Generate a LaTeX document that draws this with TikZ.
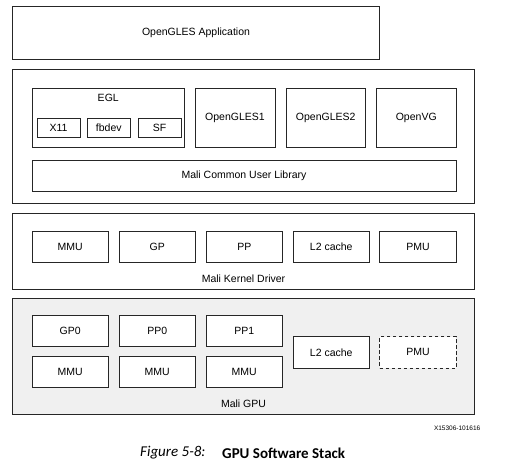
\documentclass[tikz,border=0pt]{standalone}
\usepackage{fontspec}
\setmainfont{Liberation Sans}
\newfontfamily\capfont{Carlito}
\begin{document}
\begin{tikzpicture}[x=1pt,y=-1pt,
  box/.style={draw=black!85, line width=1pt, fill=white, inner sep=0pt, outer sep=0pt,
    font=\fontsize{10.5}{12}\selectfont},
  lbl/.style={inner sep=0pt, font=\fontsize{10.5}{12}\selectfont},
  unit/.style={box, minimum width=76.5pt, minimum height=31.5pt}]
\useasboundingbox (0,0) rectangle (505,467);
% top
\node[box, minimum width=367pt, minimum height=53.5pt] (app) at (196,32.75) {OpenGLES Application};
% user library
\node[box, minimum width=462pt, minimum height=134pt] (user) at (243.5,136) {};
\node[box, minimum width=152.5pt, minimum height=59pt] (egl) at (108.25,117.5) {};
\node[lbl] (egllbl) at (108.25,98) {EGL};
\node[box, minimum width=43pt, minimum height=19pt] (x11) at (58.5,127.5) {X11};
\node[box, minimum width=43.5pt, minimum height=19pt] (fbdev) at (108.75,127.5) {fbdev};
\node[box, minimum width=43pt, minimum height=19pt] (sf) at (159.5,127.5) {SF};
\node[box, minimum width=80pt, minimum height=59pt] (gles1) at (235,117.5) {OpenGLES1};
\node[box, minimum width=79.5pt, minimum height=59pt] (gles2) at (325.75,117.5) {OpenGLES2};
\node[box, minimum width=79.5pt, minimum height=59pt] (vg) at (416.25,117.5) {OpenVG};
\node[box, minimum width=424pt, minimum height=31pt] (mcul) at (244,176) {Mali Common User Library};
% kernel driver
\node[box, minimum width=462pt, minimum height=76pt] (kd) at (243.5,251) {};
\node[unit] (kmmu) at (70.25,246.75) {MMU};
\node[unit] (kgp) at (157.25,246.75) {GP};
\node[unit] (kpp) at (244.25,246.75) {PP};
\node[unit] (kl2) at (331.25,246.75) {L2 cache};
\node[unit] (kpmu) at (418,246.75) {PMU};
\node[lbl] (kdlbl) at (243.5,279) {Mali Kernel Driver};
% GPU
\node[box, fill=black!6, minimum width=462pt, minimum height=115.5pt] (gpu) at (243.5,356.25) {};
\node[unit] (gp0) at (70.25,330.75) {GP0};
\node[unit] (pp0) at (157.25,330.75) {PP0};
\node[unit] (pp1) at (244.25,330.75) {PP1};
\node[unit] (mmu0) at (70.25,371.75) {MMU};
\node[unit] (mmu1) at (157.25,371.75) {MMU};
\node[unit] (mmu2) at (244.25,371.75) {MMU};
\node[unit] (gl2) at (331.25,352.25) {L2 cache};
\node[unit, dashed, dash pattern=on 3.5pt off 2.5pt] (gpmu) at (418,352.25) {PMU};
\node[lbl] (gpulbl) at (243.5,404) {Mali GPU};
% id and caption
\node[inner sep=0pt, anchor=east, font=\fontsize{6.5}{7}\selectfont] (xid) at (480.5,428) {X15306-101616};
\node[inner sep=0pt, anchor=west, font=\capfont\itshape\fontsize{15}{17}\selectfont] (capa) at (140,453) {Figure 5-8:};
\node[inner sep=0pt, anchor=west, font=\capfont\bfseries\fontsize{15}{17}\selectfont] (capb) at (222,453) {GPU Software Stack};
\end{tikzpicture}
\end{document}
